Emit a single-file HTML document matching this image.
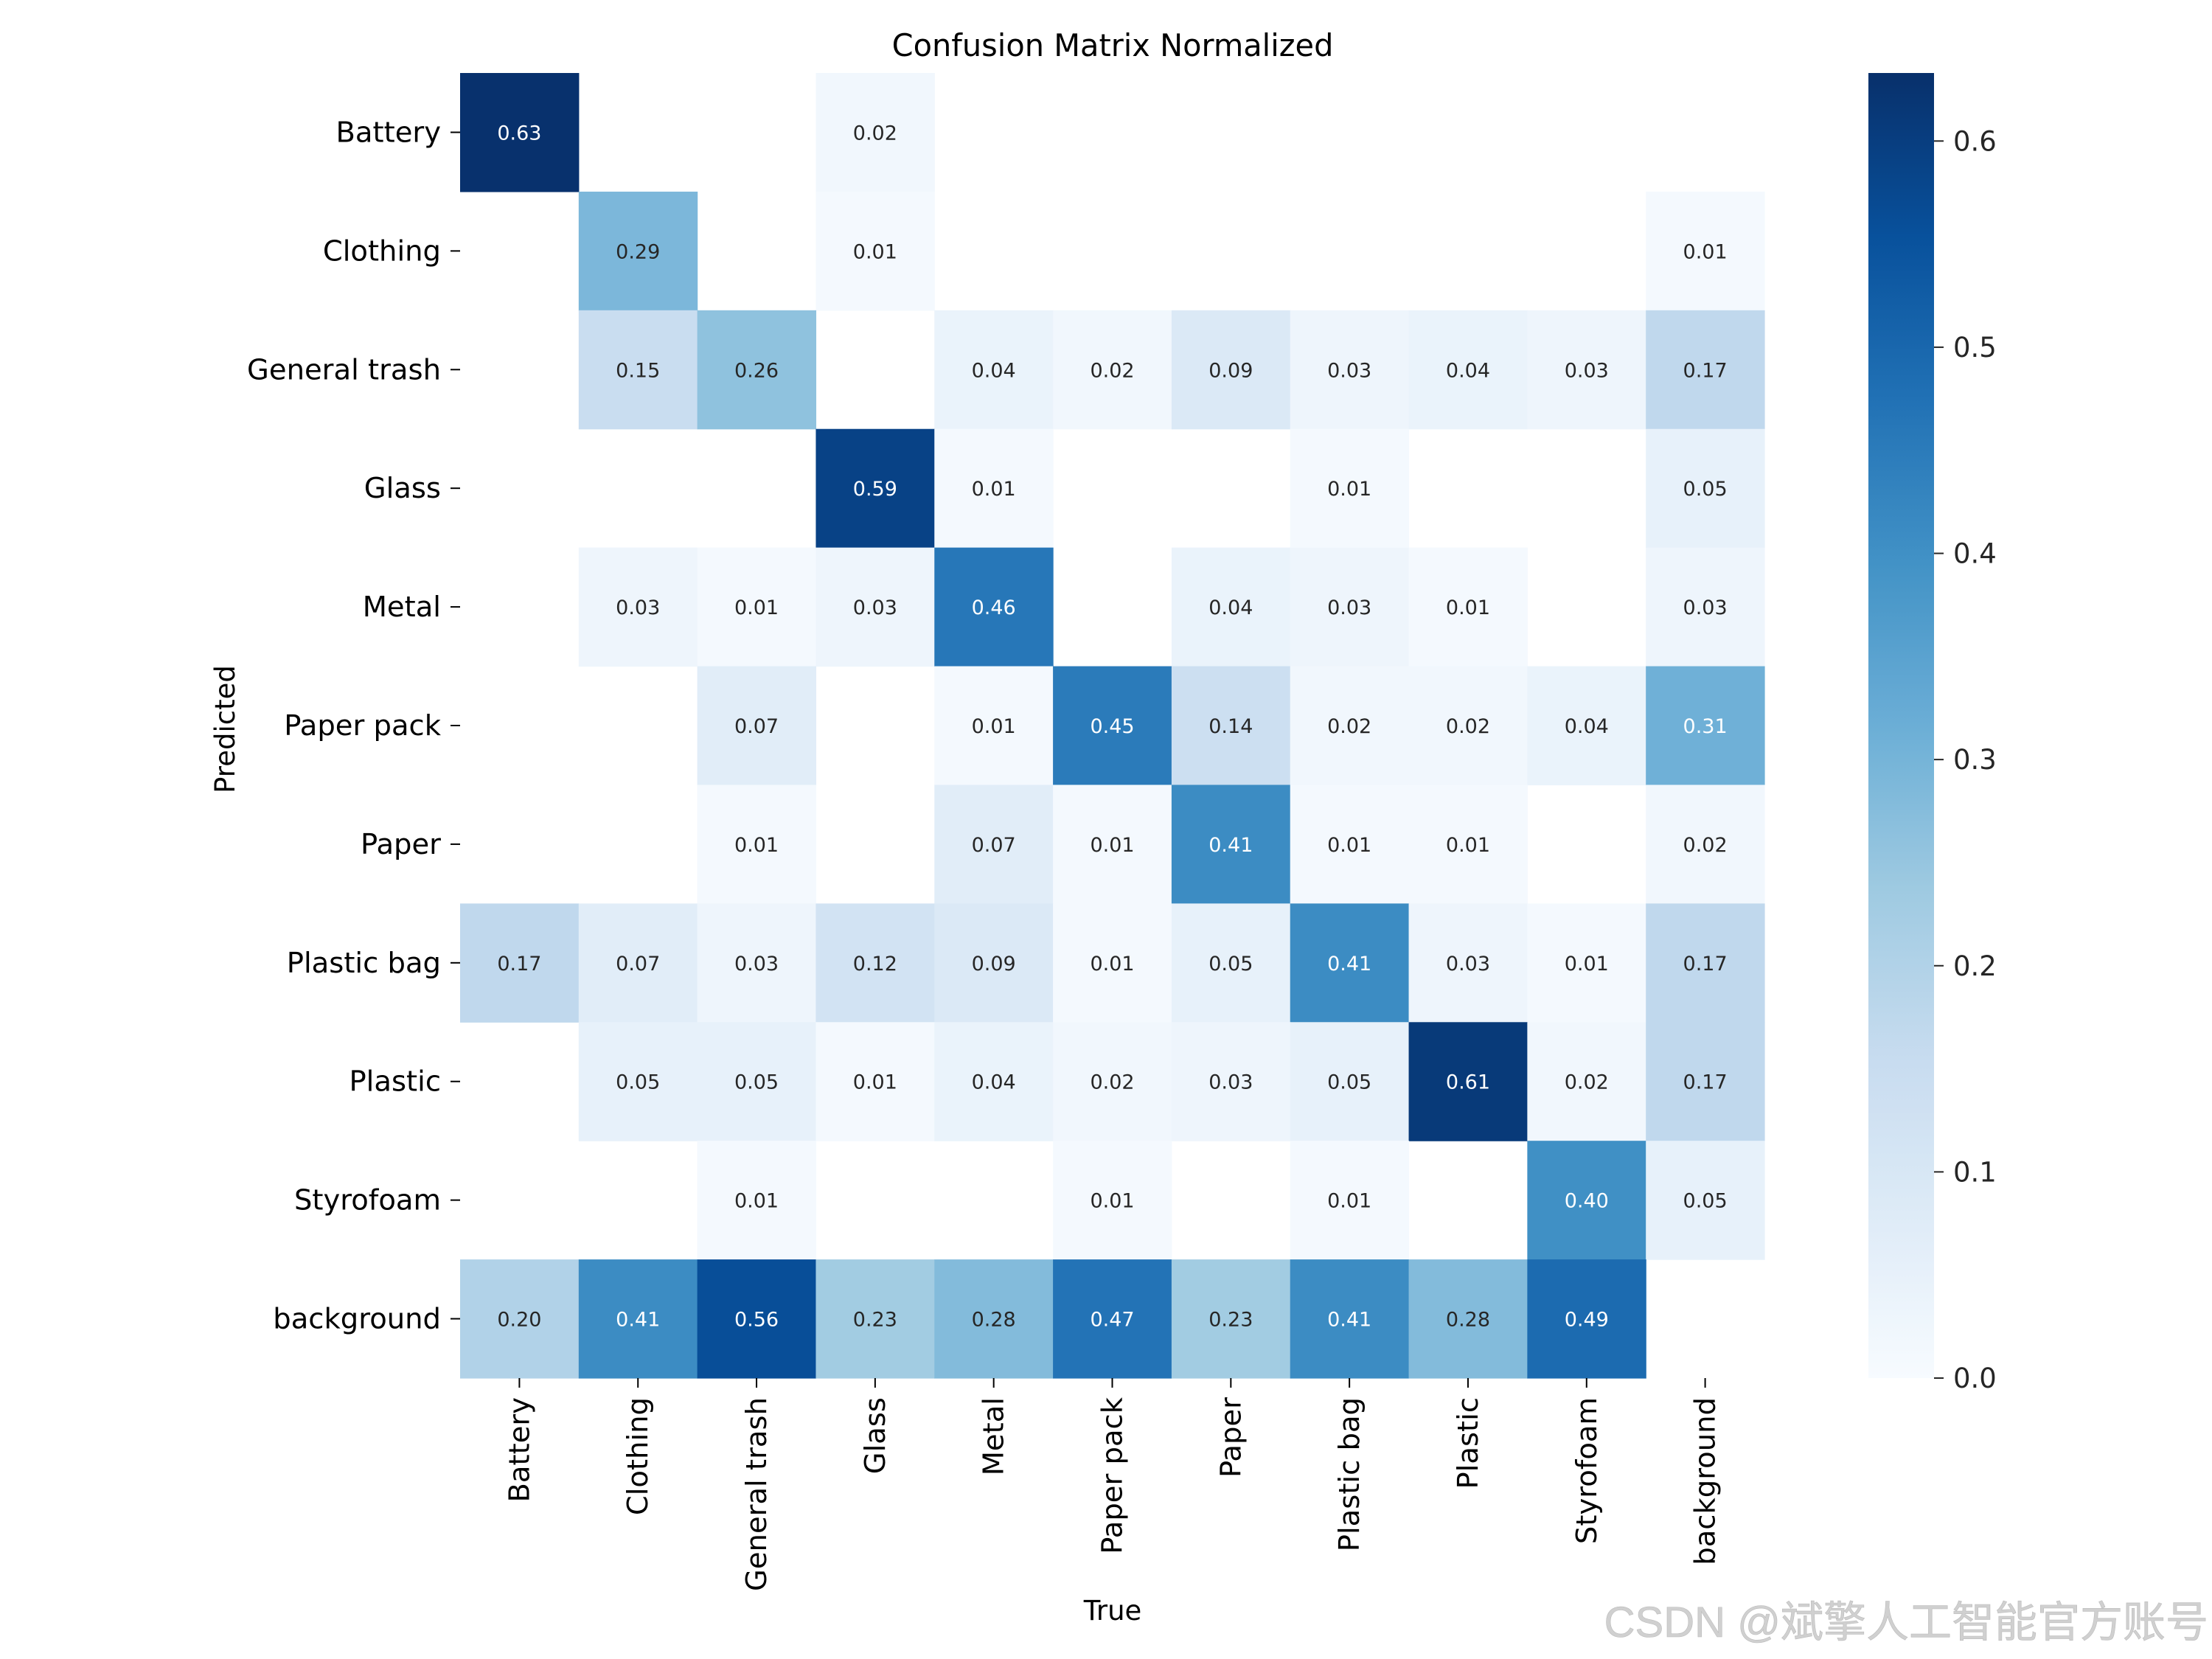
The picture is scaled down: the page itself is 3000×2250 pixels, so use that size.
<!DOCTYPE html>
<html><head><meta charset="utf-8">
<style>
html,body{margin:0;padding:0;background:#fff;}
svg{display:block;}
text{font-family:"DejaVu Sans","Liberation Sans",sans-serif;}
</style></head>
<body>
<svg id="chart" width="3000" height="2250" viewBox="0 0 3000 2250" xmlns="http://www.w3.org/2000/svg">
<rect width="3000" height="2250" fill="#fff"/>
<text x="1509" y="76" font-size="41.5" text-anchor="middle" fill="#000">Confusion Matrix Normalized</text>
<text x="1509" y="2197" font-size="37" text-anchor="middle" fill="#000">True</text>
<text x="318" y="989" font-size="37" text-anchor="middle" fill="#000" transform="rotate(-90 318 989)">Predicted</text>
<g id="cells"></g>
<g id="yticks"></g>
<g id="xticks"></g>
<g id="cbar"></g>
<text x="2995" y="2220" font-size="58" text-anchor="end" fill="#d0d0d0" stroke="#bbb" stroke-width="0.6" style='font-family:"Liberation Sans","Noto Sans CJK SC",sans-serif'>CSDN @斌擎人工智能官方账号</text>
</svg>
<script>
const categories = ["Battery","Clothing","General trash","Glass","Metal","Paper pack","Paper","Plastic bag","Plastic","Styrofoam","background"];
const rowBattery     = [0.63,null,null,0.02,null,null,null,null,null,null,null];
const rowClothing    = [null,0.29,null,0.01,null,null,null,null,null,null,0.01];
const rowGeneral     = [null,0.15,0.26,null,0.04,0.02,0.09,0.03,0.04,0.03,0.17];
const rowGlass       = [null,null,null,0.59,0.01,null,null,0.01,null,null,0.05];
const rowMetal       = [null,0.03,0.01,0.03,0.46,null,0.04,0.03,0.01,null,0.03];
const rowPaperPack   = [null,null,0.07,null,0.01,0.45,0.14,0.02,0.02,0.04,0.31];
const rowPaper       = [null,null,0.01,null,0.07,0.01,0.41,0.01,0.01,null,0.02];
const rowPlasticBag  = [0.17,0.07,0.03,0.12,0.09,0.01,0.05,0.41,0.03,0.01,0.17];
const rowPlastic     = [null,0.05,0.05,0.01,0.04,0.02,0.03,0.05,0.61,0.02,0.17];
const rowStyrofoam   = [null,null,0.01,null,null,0.01,null,0.01,null,0.40,0.05];
const rowBackground  = [0.20,0.41,0.56,0.23,0.28,0.47,0.23,0.41,0.28,0.49,null];
const matrix = [rowBattery,rowClothing,rowGeneral,rowGlass,rowMetal,rowPaperPack,rowPaper,rowPlasticBag,rowPlastic,rowStyrofoam,rowBackground];
const cbarTicks = [0.0,0.1,0.2,0.3,0.4,0.5,0.6];
const vmin = 0, vmax = 0.633;

const NS="http://www.w3.org/2000/svg";
const L=624, T=99, W=1769, H=1770, n=categories.length;
const cw=W/n, ch=H/n;
const xPos=i=>L+i*cw, yPos=i=>T+i*ch;
const stops=[[247,251,255],[222,235,247],[198,219,239],[158,202,225],[107,174,214],[66,146,198],[33,113,181],[8,81,156],[8,48,107]];
function blues(v){let t=Math.max(0,Math.min(1,(v-vmin)/(vmax-vmin)))*8;let i=Math.min(7,Math.floor(t)),f=t-i;
 return stops[i].map((c,k)=>Math.round(c+(stops[i+1][k]-c)*f));}
function lum(c){const a=c.map(x=>{x/=255;return x<=0.03928?x/12.92:Math.pow((x+0.055)/1.055,2.4)});return 0.2126*a[0]+0.7152*a[1]+0.0722*a[2];}
function mk(tag,attrs,parent){const e=document.createElementNS(NS,tag);for(const k in attrs)e.setAttribute(k,attrs[k]);parent.appendChild(e);return e;}
const cells=document.getElementById('cells');
matrix.forEach((row,r)=>row.forEach((v,c)=>{
 if(v===null)return;
 const col=blues(v);
 const rc=mk('rect',{x:xPos(c),y:yPos(r),width:cw+0.6,height:ch+0.6,fill:`rgb(${col})`},cells);
 
 
 const tx=mk('text',{x:xPos(c)+cw/2,y:yPos(r)+ch/2+10,'font-size':27,'text-anchor':'middle',fill:lum(col)>0.408?'#262626':'#fff'},cells);
 
 
 tx.textContent=v.toFixed(2);
}));
const yt=document.getElementById('yticks'), xt=document.getElementById('xticks');
categories.forEach((name,i)=>{
 const cy=yPos(i)+ch/2;
 mk('line',{x1:L-13,x2:L,y1:cy,y2:cy,stroke:'#000','stroke-width':2},yt);
 const t=mk('text',{x:L-26,y:cy+13,'font-size':38.5,'text-anchor':'end',fill:'#000'},yt);
 
 
 t.textContent=name;
 const cx=xPos(i)+cw/2;
 mk('line',{x1:cx,x2:cx,y1:T+H,y2:T+H+13,stroke:'#000','stroke-width':2},xt);
 const bx=cx+13, by=T+H+26;
 const s=mk('text',{x:bx,y:by,'font-size':38.5,'text-anchor':'end',fill:'#000',transform:`rotate(-90 ${bx} ${by})`},xt);
 
 
 s.textContent=name;
});
const cb=document.getElementById('cbar');
const CX=2534, CW=89;
const defs=mk('defs',{},cb);
const g=mk('linearGradient',{id:'bg',x1:0,y1:1,x2:0,y2:0},defs);
for(let k=0;k<=40;k++){const v=vmin+(vmax-vmin)*k/40;mk('stop',{offset:k/40,'stop-color':`rgb(${blues(v)})`},g);}
const cr=mk('rect',{x:CX,y:T,width:CW,height:H,fill:'url(#bg)'},cb);


const cy=v=>T+H-(v-vmin)/(vmax-vmin)*H;
cbarTicks.forEach(v=>{
 const y=cy(v);
 mk('line',{x1:CX+CW,x2:CX+CW+13,y1:y,y2:y,stroke:'#262626','stroke-width':2},cb);
 const t=mk('text',{x:CX+CW+26,y:y+13,'font-size':37,fill:'#262626'},cb);
 
 
 t.textContent=v.toFixed(1);
});
</script>
</body></html>
